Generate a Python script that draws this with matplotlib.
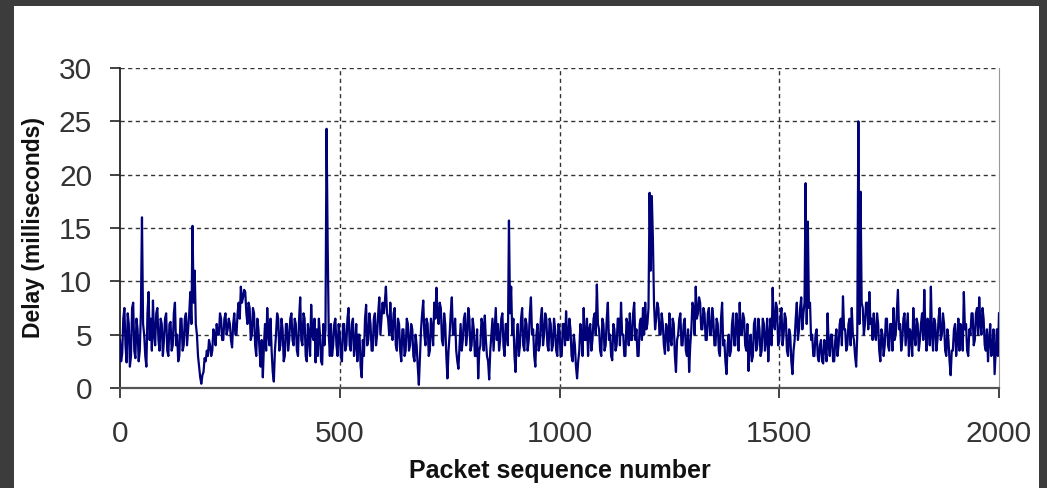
import numpy as np
import matplotlib
matplotlib.use('Agg')
import matplotlib.pyplot as plt
from matplotlib.patches import Rectangle

# delay (ms) at packets 0, 5, 10, ... 2000
packets = list(range(0, 2001, 5))
delay = [
    4.5, 3.2, 7.5, 2.4, 6.0, 3.0, 8.0, 2.8, 5.5, 3.5, 16.0, 5.0, 2.0, 9.0, 6.5, 8.2, 4.0, 7.5, 3.5, 6.0,
    4.5, 7.0, 3.0, 6.2, 4.0, 8.0, 5.0, 3.0, 6.5, 4.0, 7.0, 5.5, 9.0, 15.2, 11.0, 5.0, 2.0, 0.4, 1.5, 2.5,
    3.0, 4.0, 3.5, 5.0, 6.0, 5.0, 6.5, 4.5, 7.0, 5.5, 6.0, 3.8, 7.0, 5.0, 8.0, 9.5, 8.5, 9.0, 6.0, 7.5,
    5.0, 7.0, 3.0, 5.5, 2.0, 1.0, 6.0, 7.5, 4.0, 3.5, 0.6, 5.0, 6.5, 4.0, 5.5, 3.0, 6.0, 4.5, 7.0, 4.0,
    6.0, 3.0, 8.5, 4.0, 6.5, 2.5, 5.0, 7.8, 4.5, 2.4, 3.0, 5.0, 2.2, 4.0, 24.3, 5.0, 6.0, 4.0, 6.5, 3.0,
    5.0, 2.5, 6.0, 4.0, 7.5, 3.5, 6.5, 4.0, 2.5, 5.0, 1.0, 3.0, 7.8, 4.5, 6.0, 3.5, 7.0, 5.0, 8.5, 6.5,
    7.0, 9.5, 6.5, 8.0, 4.5, 7.5, 3.5, 6.0, 2.5, 5.5, 3.5, 6.0, 4.0, 5.5, 2.5, 4.0, 0.3, 5.5, 8.2, 4.0,
    6.0, 3.5, 5.5, 8.0, 9.4, 6.0, 7.5, 4.0, 6.0, 0.9, 5.0, 8.5, 5.0, 3.5, 1.8, 6.0, 4.5, 7.0, 5.0, 6.5,
    4.0, 5.5, 3.0, 0.9, 4.0, 6.0, 6.8, 3.0, 0.8, 5.0, 3.5, 7.5, 6.0, 4.5, 7.0, 3.0, 6.0, 15.7, 9.5, 6.5,
    1.5, 6.0, 4.0, 7.5, 3.5, 6.0, 4.5, 8.5, 5.5, 2.0, 6.0, 4.0, 7.5, 5.0, 6.5, 3.5, 6.0, 4.0, 5.5, 3.0,
    5.5, 3.0, 6.0, 7.2, 4.5, 5.5, 2.5, 4.0, 0.9, 3.5, 5.0, 7.5, 4.5, 3.0, 6.0, 4.5, 7.0, 9.7, 5.5, 3.0,
    6.0, 4.0, 8.0, 5.0, 2.6, 5.5, 4.0, 6.5, 8.0, 5.0, 3.0, 6.0, 7.0, 4.5, 8.0, 5.5, 3.0, 6.5, 7.5, 8.0,
    6.0, 18.3, 18.0, 8.0, 6.5, 7.5, 5.0, 6.0, 3.2, 5.5, 7.0, 4.0, 6.0, 1.5, 5.0, 7.0, 4.0, 6.5, 3.0, 1.5,
    5.5, 7.5, 9.5, 7.0, 8.0, 5.5, 7.0, 4.5, 7.5, 5.0, 6.5, 4.0, 6.0, 3.0, 8.0, 4.5, 1.3, 5.0, 3.5, 7.0,
    4.0, 6.0, 8.0, 5.0, 6.5, 3.5, 1.6, 5.0, 3.0, 6.5, 4.0, 5.5, 3.5, 6.0, 4.5, 2.5, 6.5, 9.4, 5.5, 7.5,
    4.5, 7.5, 5.0, 6.5, 3.0, 5.0, 1.3, 4.5, 8.0, 5.5, 8.5, 7.0, 19.2, 15.6, 8.0, 5.0, 3.0, 5.5, 2.5, 4.5,
    2.3, 4.0, 7.0, 3.0, 5.0, 2.5, 5.5, 4.0, 6.5, 8.6, 5.5, 4.0, 6.5, 7.5, 4.5, 2.0, 25.0, 18.4, 7.5, 6.0,
    8.0, 9.0, 6.5, 7.0, 4.5, 6.0, 2.5, 5.0, 4.0, 6.5, 3.5, 6.0, 7.5, 5.0, 9.2, 6.0, 4.5, 7.0, 5.5, 3.0,
    5.0, 7.5, 4.0, 6.0, 4.5, 7.0, 9.2, 3.5, 6.0, 9.5, 3.5, 6.0, 4.5, 7.5, 5.0, 6.0, 3.0, 4.5, 1.2, 3.5,
    6.0, 4.5, 3.5, 5.5, 9.0, 6.0, 3.0, 5.0, 7.0, 4.5, 7.5, 8.5, 5.0, 6.5, 3.5, 2.5, 6.0, 3.5, 1.3, 5.5,
    7.0,
]

# second reading in between, at packets 2.5, 7.5, ... 1997.5
packets_mid = list(np.arange(2.5, 2000, 5))
delay_mid = [
    2.5, 6.5, 4.0, 7.0, 2.0, 7.5, 3.5, 6.5, 2.5, 7.0, 6.0, 3.0, 7.0, 4.5, 3.5, 5.0, 7.0, 4.5, 6.5, 3.0,
    6.5, 3.5, 6.0, 3.5, 7.0, 4.0, 2.5, 6.5, 3.5, 6.5, 4.0, 7.0, 6.0, 8.0, 6.0, 3.0, 1.0, 1.2, 2.8, 3.5,
    4.5, 3.0, 5.5, 4.0, 5.0, 7.0, 4.5, 6.5, 5.0, 6.5, 4.5, 6.0, 5.0, 7.0, 6.5, 8.0, 9.2, 7.0, 8.0, 4.5,
    7.5, 4.0, 6.5, 3.5, 4.5, 4.0, 3.5, 5.0, 6.5, 1.5, 3.5, 7.0, 3.5, 6.5, 2.5, 6.0, 3.5, 6.5, 4.5, 6.5,
    3.5, 6.5, 4.5, 7.0, 3.0, 6.0, 3.0, 5.0, 6.5, 5.5, 6.5, 2.5, 6.0, 5.5, 13.5, 3.0, 3.0, 6.0, 4.0, 6.0,
    3.0, 6.0, 3.5, 6.5, 4.0, 6.0, 3.0, 6.0, 5.0, 2.0, 4.5, 6.5, 4.0, 7.0, 3.5, 6.5, 4.0, 7.0, 5.0, 8.0,
    8.0, 7.0, 5.0, 5.5, 7.0, 4.0, 6.5, 3.5, 5.5, 3.0, 6.5, 3.5, 6.0, 3.0, 5.0, 2.0, 3.0, 7.0, 5.0, 6.5,
    3.0, 6.5, 4.0, 6.5, 7.0, 8.0, 4.5, 7.0, 3.0, 3.5, 7.0, 5.0, 6.5, 2.5, 4.0, 3.5, 6.5, 4.0, 7.5, 3.5,
    6.5, 3.0, 5.5, 3.5, 6.5, 3.5, 4.5, 2.5, 3.5, 6.5, 5.5, 4.5, 3.5, 6.5, 4.0, 6.0, 4.0, 7.0, 5.0, 3.0,
    4.5, 3.0, 6.5, 4.0, 6.5, 3.5, 7.0, 5.0, 3.0, 5.0, 3.5, 6.5, 4.0, 7.0, 4.0, 6.5, 3.5, 6.5, 3.5, 6.0,
    3.0, 6.0, 4.0, 4.5, 6.5, 3.0, 5.0, 2.0, 2.5, 6.0, 3.0, 4.5, 6.5, 5.5, 3.5, 6.5, 5.0, 6.0, 3.5, 6.5,
    3.5, 6.5, 4.5, 3.0, 6.0, 3.5, 6.5, 4.0, 5.0, 3.0, 6.5, 4.0, 4.5, 7.0, 4.5, 3.0, 6.0, 4.5, 5.0, 5.5,
    7.5, 11.0, 14.0, 5.5, 8.0, 5.0, 7.0, 4.0, 6.0, 3.5, 4.5, 6.5, 3.0, 4.5, 6.5, 4.0, 6.0, 3.5, 5.5, 4.0,
    8.0, 5.0, 6.5, 8.5, 5.5, 7.5, 4.5, 7.0, 5.0, 7.5, 4.0, 6.5, 3.5, 6.5, 4.0, 2.5, 4.0, 3.0, 6.0, 4.0,
    7.0, 3.5, 5.0, 7.0, 4.0, 6.0, 4.0, 2.5, 6.0, 3.5, 6.5, 3.0, 6.5, 3.5, 6.5, 5.0, 4.0, 6.0, 8.0, 4.0,
    6.5, 4.0, 7.0, 3.5, 5.5, 2.5, 3.5, 6.5, 4.5, 7.5, 5.5, 8.0, 6.0, 7.5, 4.5, 3.0, 5.0, 3.0, 4.0, 2.5,
    4.5, 2.5, 4.0, 5.0, 2.5, 4.5, 3.0, 6.0, 4.0, 5.5, 3.5, 6.0, 4.0, 5.0, 3.0, 5.0, 6.0, 8.0, 5.0, 8.0,
    5.5, 6.0, 4.5, 5.0, 7.0, 3.5, 5.5, 3.0, 6.5, 4.0, 6.0, 3.5, 4.5, 7.0, 5.5, 3.5, 6.5, 4.0, 7.0, 5.5,
    3.0, 5.0, 6.5, 3.5, 6.0, 4.5, 5.5, 6.5, 4.0, 5.0, 6.5, 3.5, 6.5, 4.5, 7.0, 3.5, 5.5, 2.5, 3.5, 5.5,
    3.0, 6.5, 6.0, 3.5, 5.5, 3.5, 5.5, 7.0, 4.0, 7.0, 5.0, 6.0, 7.5, 4.0, 5.5, 4.5, 3.0, 5.5, 3.5, 3.0,
]

xticks = [0, 500, 1000, 1500, 2000]
yticks = [0, 5, 10, 15, 20, 25, 30]

# merge both readings into one series ordered by packet number
px = np.concatenate([packets, packets_mid])
py = np.concatenate([delay, delay_mid])
order = np.argsort(px)
px, py = px[order], py[order]

W, H = 1047, 488
fig = plt.figure(figsize=(W / 100, H / 100), dpi=100, facecolor='#3c3c3c')
# white card inside the dark frame
card = Rectangle((14 / W, 0), (1039 - 14) / W, 1 - 6 / H,
                 transform=fig.transFigure, facecolor='white',
                 edgecolor='none', zorder=-10)
fig.patches.append(card)

ax = fig.add_axes([120 / W, 1 - 388 / H, (999 - 120) / W, (388 - 68) / H])
ax.set_facecolor('white')
ax.set_zorder(5)

ax.plot(px, py, color='#000078', linewidth=1.6, zorder=3)

ax.set_xlim(0, 2000)
ax.set_ylim(0, 30)
ax.set_xticks(xticks)
ax.set_yticks(yticks)

grid_kw = dict(color='#333333', linewidth=1.0, linestyle=(0, (3, 2.5)), zorder=1)
for y in yticks[1:]:
    ax.axhline(y, **grid_kw)
for x in xticks[1:-1]:
    ax.axvline(x, **grid_kw)

ax.spines['top'].set_visible(False)
ax.spines['right'].set_color('#999999')
ax.spines['left'].set_color('#222222')
ax.spines['bottom'].set_color('#555555')
ax.spines['left'].set_linewidth(1.3)
ax.spines['bottom'].set_linewidth(1.6)

font = 'Liberation Sans'
ax.tick_params(axis='both', direction='out', length=7, width=1.2, color='#222222',
               labelsize=21.5, labelcolor='#333333')
ax.tick_params(axis='y', pad=13)
ax.tick_params(axis='x', pad=16)
for lab in ax.get_xticklabels() + ax.get_yticklabels():
    lab.set_fontfamily(font)

ax.set_xlabel('Packet sequence number', fontfamily=font, fontweight='bold',
              fontsize=18, color='#111111', labelpad=8)
ax.set_ylabel('Delay (milliseconds)', fontfamily=font, fontweight='bold',
              fontsize=16.5, color='#111111', labelpad=10)

fig.savefig('out.png', dpi=100, facecolor=fig.get_facecolor())
